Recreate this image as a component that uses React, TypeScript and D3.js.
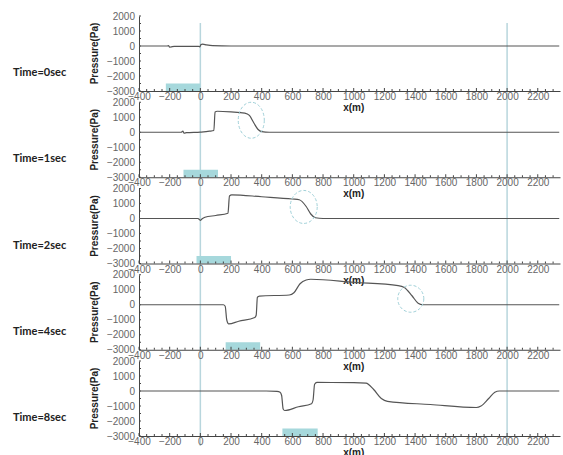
import { useRef, useEffect } from 'react';
import * as d3 from 'd3';

// panel labels
const timeLabels = ['Time=0sec', 'Time=1sec', 'Time=2sec', 'Time=4sec', 'Time=8sec'];

// axis ticks
const xTicks = [-400, -200, 0, 200, 400, 600, 800, 1000, 1200, 1400, 1600, 1800, 2000, 2200];
const yTicks = [2000, 1000, 0, -1000, -2000, -3000];

// pressure profiles [x(m), Pa]
const p0 = [[-400, 0], [-215, 0], [-208, 30], [-200, -80], [-190, -60], [-170, -20], [-12, -20], [-4, -60], [4, 90], [15, 120], [40, 70], [80, 20], [200, 0], [2340, 0]];
const p1 = [[-400, 0], [-125, 0], [-114, 70], [-106, -60], [-90, -30], [0, 10], [60, 70], [88, 120], [96, 1350], [110, 1400], [200, 1360], [290, 1280], [320, 1120], [350, 600], [375, 200], [400, 40], [450, 0], [2340, 0]];
const p2 = [[-400, 0], [-15, 0], [-5, -80], [0, -120], [10, -30], [30, 80], [100, 200], [180, 350], [190, 1500], [205, 1580], [400, 1450], [600, 1300], [645, 1250], [690, 800], [720, 300], [750, 50], [800, 0], [2340, 0]];
const p3 = [[-400, 0], [150, 0], [162, -100], [172, -1000], [185, -1280], [250, -1100], [355, -850], [364, -700], [372, 500], [385, 580], [580, 650], [610, 800], [650, 1400], [690, 1650], [720, 1700], [1000, 1500], [1290, 1280], [1330, 1150], [1380, 600], [1420, 100], [1450, 0], [2340, 0]];
const p4 = [[-400, 0], [430, 0], [500, -30], [520, -90], [530, -300], [540, -1200], [550, -1300], [640, -1050], [725, -850], [735, -600], [745, 450], [760, 570], [1000, 560], [1080, 520], [1130, 100], [1180, -500], [1220, -690], [1500, -900], [1800, -1100], [1830, -1000], [1880, -500], [1920, -80], [1950, 0], [2340, 0]];
const series = [p0, p1, p2, p3, p4];

// highlighted pipe segment (cyan bar) per panel
const barStart = [-225, -110, -25, 165, 535];
const barEnd = [0, 115, 200, 390, 765];

// dashed ellipses marking the wave front [x, Pa, rx(m), ry(Pa)]
const fronts = [null, [332, 800, 85, 1200], [674, 770, 88, 1100], [1372, 400, 85, 900], null];

function App() {
    const svgRef = useRef(null);

    useEffect(() => {
        const width = 563;
        const height = 455;
        const firstBottom = 91;
        const step = 86.25;
        const plotH = 75;

        const svg = d3.select(svgRef.current).attr('width', width).attr('height', height);
        svg.selectAll('*').remove();

        const x = d3.scaleLinear().domain([-400, 2345]).range([139, 560]);

        const blue = '#b8d6dd';
        const cyan = '#a6d8dc';

        // long reference lines at x=0 and x=2000
        [0, 2000].forEach(v => {
            svg.append('line')
                .attr('x1', x(v)).attr('x2', x(v))
                .attr('y1', 23).attr('y2', 446)
                .attr('stroke', blue).attr('stroke-width', 1.5);
        });

        series.forEach((data, i) => {
            const bottom = firstBottom + i * step;
            const y = d3.scaleLinear().domain([-3000, 2000]).range([bottom, bottom - plotH]);
            const g = svg.append('g');

            // time label
            g.append('text')
                .attr('x', 13).attr('y', bottom - 15)
                .attr('font-family', 'Lato, sans-serif').attr('font-weight', 700)
                .attr('font-size', 11).attr('fill', '#222')
                .text(timeLabels[i]);

            // y title
            g.append('text')
                .attr('transform', `translate(98,${bottom - plotH / 2}) rotate(-90)`)
                .attr('text-anchor', 'middle')
                .attr('font-family', 'Liberation Sans, Arial, sans-serif').attr('font-weight', 700)
                .attr('font-size', 10).attr('fill', '#222')
                .text('Pressure(Pa)');

            // cyan bar
            g.append('rect')
                .attr('x', x(barStart[i])).attr('width', x(barEnd[i]) - x(barStart[i]))
                .attr('y', y(-2500)).attr('height', y(-3000) - y(-2500))
                .attr('fill', cyan);

            // y axis
            const yAxis = d3.axisLeft(y).tickValues(yTicks).tickSize(0).tickPadding(4)
                .tickFormat(d3.format('d'));
            const ya = g.append('g').attr('transform', `translate(${x(-400)},0)`).call(yAxis);
            ya.select('.domain').attr('stroke', '#444');
            ya.selectAll('text').attr('font-family', 'Liberation Sans, Arial, sans-serif')
                .attr('font-size', 10).attr('fill', '#666');
            // minor ticks on y
            d3.range(-3000, 2001, 500).forEach(v => {
                ya.append('line').attr('x1', 0).attr('x2', 2).attr('y1', y(v)).attr('y2', y(v))
                    .attr('stroke', '#444');
            });

            // x axis
            const xAxis = d3.axisBottom(x).tickValues(xTicks).tickSize(0).tickPadding(2)
                .tickFormat(d3.format('d'));
            const xa = g.append('g').attr('transform', `translate(0,${bottom})`).call(xAxis);
            xa.select('.domain').attr('stroke', '#444');
            xa.selectAll('text').attr('font-family', 'Liberation Sans, Arial, sans-serif')
                .attr('font-size', 10).attr('fill', '#666');
            d3.range(-400, 2341, 50).forEach(v => {
                xa.append('line').attr('x1', x(v)).attr('x2', x(v)).attr('y1', 0)
                    .attr('y2', v % 200 === 0 ? -3 : -2).attr('stroke', '#444');
            });

            g.append('text')
                .attr('x', x(1000)).attr('y', bottom + 20)
                .attr('text-anchor', 'middle')
                .attr('font-family', 'Liberation Sans, Arial, sans-serif').attr('font-weight', 700)
                .attr('font-size', 10).attr('fill', '#222')
                .text('x(m)');

            // pressure line
            const line = d3.line()
                .x(d => x(d[0]))
                .y(d => y(d[1]))
                .curve(d3.curveMonotoneX);
            g.append('path')
                .datum(data)
                .attr('d', line)
                .attr('fill', 'none')
                .attr('stroke', '#555')
                .attr('stroke-width', 1.2);

            // dashed ellipse
            const f = fronts[i];
            if (f) {
                g.append('ellipse')
                    .attr('cx', x(f[0])).attr('cy', y(f[1]))
                    .attr('rx', x(f[0] + f[2]) - x(f[0]))
                    .attr('ry', y(0) - y(f[3]))
                    .attr('fill', 'none')
                    .attr('stroke', '#9fd0d8')
                    .attr('stroke-width', 1)
                    .attr('stroke-dasharray', '3,2');
            }
        });
    }, []);

    return <svg ref={svgRef} style={{ position: 'absolute', left: 0, top: 0, background: '#fff' }} />;
}

export default App;
